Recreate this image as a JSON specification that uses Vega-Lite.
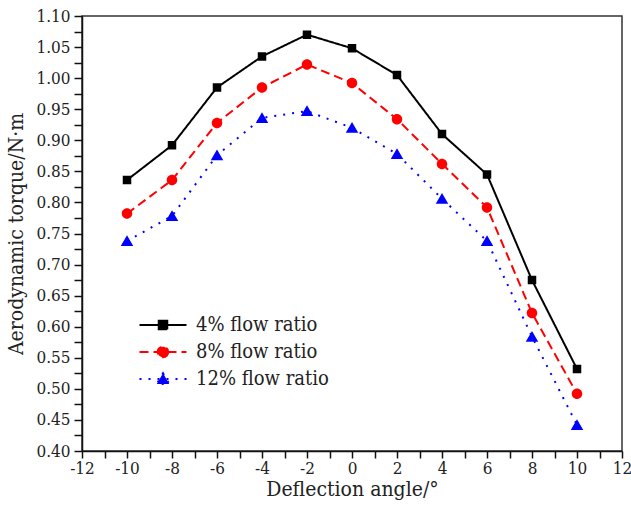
{
  "$schema": "https://vega.github.io/schema/vega-lite/v6.json",
  "width": 540,
  "height": 435,
  "autosize": {"type": "none"},
  "padding": {"left": 82, "top": 16, "right": 9, "bottom": 57},
  "background": "white",
  "config": {
    "view": {"stroke": "#333", "strokeWidth": 1.5},
    "font": "DejaVu Serif Condensed",
    "axis": {
      "domainColor": "#111", "domainWidth": 1.5, "tickColor": "#111", "tickWidth": 1.5,
      "labelFont": "DejaVu Serif Condensed", "labelColor": "#222", "labelFontSize": 17,
      "titleFont": "DejaVu Serif Condensed", "titleColor": "#222", "titleFontSize": 21, "titleFontWeight": "normal",
      "grid": false, "labelOverlap": false, "labelFlush": false
    },
    "legend": {
      "orient": "none", "legendX": 71, "legendY": 299, "padding": 0,
      "labelFont": "DejaVu Serif Condensed", "labelFontSize": 20, "labelColor": "#222",
      "labelOffset": 23, "rowPadding": 7, "symbolStrokeWidth": 2
    }
  },
  "data": {
    "values": [
      {"s": "4% flow ratio", "a": -10, "t": 0.836},
      {"s": "4% flow ratio", "a": -8, "t": 0.892},
      {"s": "4% flow ratio", "a": -6, "t": 0.985},
      {"s": "4% flow ratio", "a": -4, "t": 1.035},
      {"s": "4% flow ratio", "a": -2, "t": 1.070},
      {"s": "4% flow ratio", "a": 0, "t": 1.048},
      {"s": "4% flow ratio", "a": 2, "t": 1.005},
      {"s": "4% flow ratio", "a": 4, "t": 0.910},
      {"s": "4% flow ratio", "a": 6, "t": 0.845},
      {"s": "4% flow ratio", "a": 8, "t": 0.675},
      {"s": "4% flow ratio", "a": 10, "t": 0.532},
      {"s": "8% flow ratio", "a": -10, "t": 0.782},
      {"s": "8% flow ratio", "a": -8, "t": 0.836},
      {"s": "8% flow ratio", "a": -6, "t": 0.928},
      {"s": "8% flow ratio", "a": -4, "t": 0.985},
      {"s": "8% flow ratio", "a": -2, "t": 1.022},
      {"s": "8% flow ratio", "a": 0, "t": 0.992},
      {"s": "8% flow ratio", "a": 2, "t": 0.934},
      {"s": "8% flow ratio", "a": 4, "t": 0.862},
      {"s": "8% flow ratio", "a": 6, "t": 0.792},
      {"s": "8% flow ratio", "a": 8, "t": 0.622},
      {"s": "8% flow ratio", "a": 10, "t": 0.492},
      {"s": "12% flow ratio", "a": -10, "t": 0.738},
      {"s": "12% flow ratio", "a": -8, "t": 0.778},
      {"s": "12% flow ratio", "a": -6, "t": 0.876},
      {"s": "12% flow ratio", "a": -4, "t": 0.936},
      {"s": "12% flow ratio", "a": -2, "t": 0.947},
      {"s": "12% flow ratio", "a": 0, "t": 0.920},
      {"s": "12% flow ratio", "a": 2, "t": 0.878},
      {"s": "12% flow ratio", "a": 4, "t": 0.806},
      {"s": "12% flow ratio", "a": 6, "t": 0.738},
      {"s": "12% flow ratio", "a": 8, "t": 0.584},
      {"s": "12% flow ratio", "a": 10, "t": 0.442}
    ]
  },
  "encoding": {
    "x": {
      "field": "a", "type": "quantitative",
      "scale": {"domain": [-12, 12], "nice": false, "zero": false},
      "axis": {
        "orient": "bottom", "title": "Deflection angle/°",
        "values": [-12, -11, -10, -9, -8, -7, -6, -5, -4, -3, -2, -1, 0, 1, 2, 3, 4, 5, 6, 7, 8, 9, 10, 11, 12],
        "labelExpr": "abs(datum.value) % 2 == 1 ? '' : (datum.value < 0 ? '-' + abs(datum.value) : '' + datum.value)",
        "tickSize": 7, "labelPadding": 2, "titlePadding": 2,
        "encode": {"ticks": {"update": {"y2": {"signal": "abs(datum.value) % 2 == 1 ? 4 : 7"}}}}
      }
    },
    "y": {
      "field": "t", "type": "quantitative",
      "scale": {"domain": [0.4, 1.1], "nice": false, "zero": false},
      "axis": {
        "orient": "left", "title": "Aerodynamic torque/N·m",
        "values": [0.4, 0.425, 0.45, 0.475, 0.5, 0.525, 0.55, 0.575, 0.6, 0.625, 0.65, 0.675, 0.7, 0.725, 0.75, 0.775, 0.8, 0.825, 0.85, 0.875, 0.9, 0.925, 0.95, 0.975, 1.0, 1.025, 1.05, 1.075, 1.1],
        "labelExpr": "round(datum.value * 40) % 2 == 1 ? '' : format(datum.value, '.2f')",
        "tickSize": 8, "labelPadding": 4, "titlePadding": 9,
        "encode": {"ticks": {"update": {"x2": {"signal": "round(datum.value * 40) % 2 == 1 ? -4 : -8"}}}}
      }
    }
  },
  "layer": [
    {
      "mark": {"type": "line", "strokeWidth": 2},
      "encoding": {
        "color": {
          "field": "s", "type": "nominal",
          "scale": {"domain": ["4% flow ratio", "8% flow ratio", "12% flow ratio"], "range": ["#000000", "#ff0000", "#0000ff"]},
          "legend": {
            "title": null,
            "encode": {"symbols": {"update": {"stroke": {"scale": "color", "field": "value"}, "strokeWidth": {"value": 2}}}}
          }
        },
        "strokeDash": {
          "field": "s", "type": "nominal", "legend": {"title": null},
          "scale": {"domain": ["4% flow ratio", "8% flow ratio", "12% flow ratio"], "range": [[1, 0], [9, 5], [2, 7]]}
        }
      }
    },
    {
      "mark": {"type": "point", "filled": true, "opacity": 1, "size": 100},
      "encoding": {
        "color": {
          "field": "s", "type": "nominal",
          "legend": {
            "title": null,
            "encode": {"symbols": {"update": {"stroke": {"scale": "color", "field": "value"}, "strokeWidth": {"value": 2}}}}
          }
        },
        "shape": {
          "field": "s", "type": "nominal",
          "scale": {
            "domain": ["4% flow ratio", "8% flow ratio", "12% flow ratio"],
            "range": [
              "M-4.7,0H4.7M-0.85,-0.85H0.85V0.85H-0.85Z",
              "M-4.7,0H4.7M1.05,0A1.05,1.05 0 1,1 -1.05,0A1.05,1.05 0 1,1 1.05,0Z",
              "M-4.7,0H4.7M0,-1.15L1.25,1L-1.25,1Z"
            ]
          },
          "legend": {"title": null}
        },
        "strokeDash": {"field": "s", "type": "nominal", "legend": {"title": null}}
      }
    }
  ]
}
